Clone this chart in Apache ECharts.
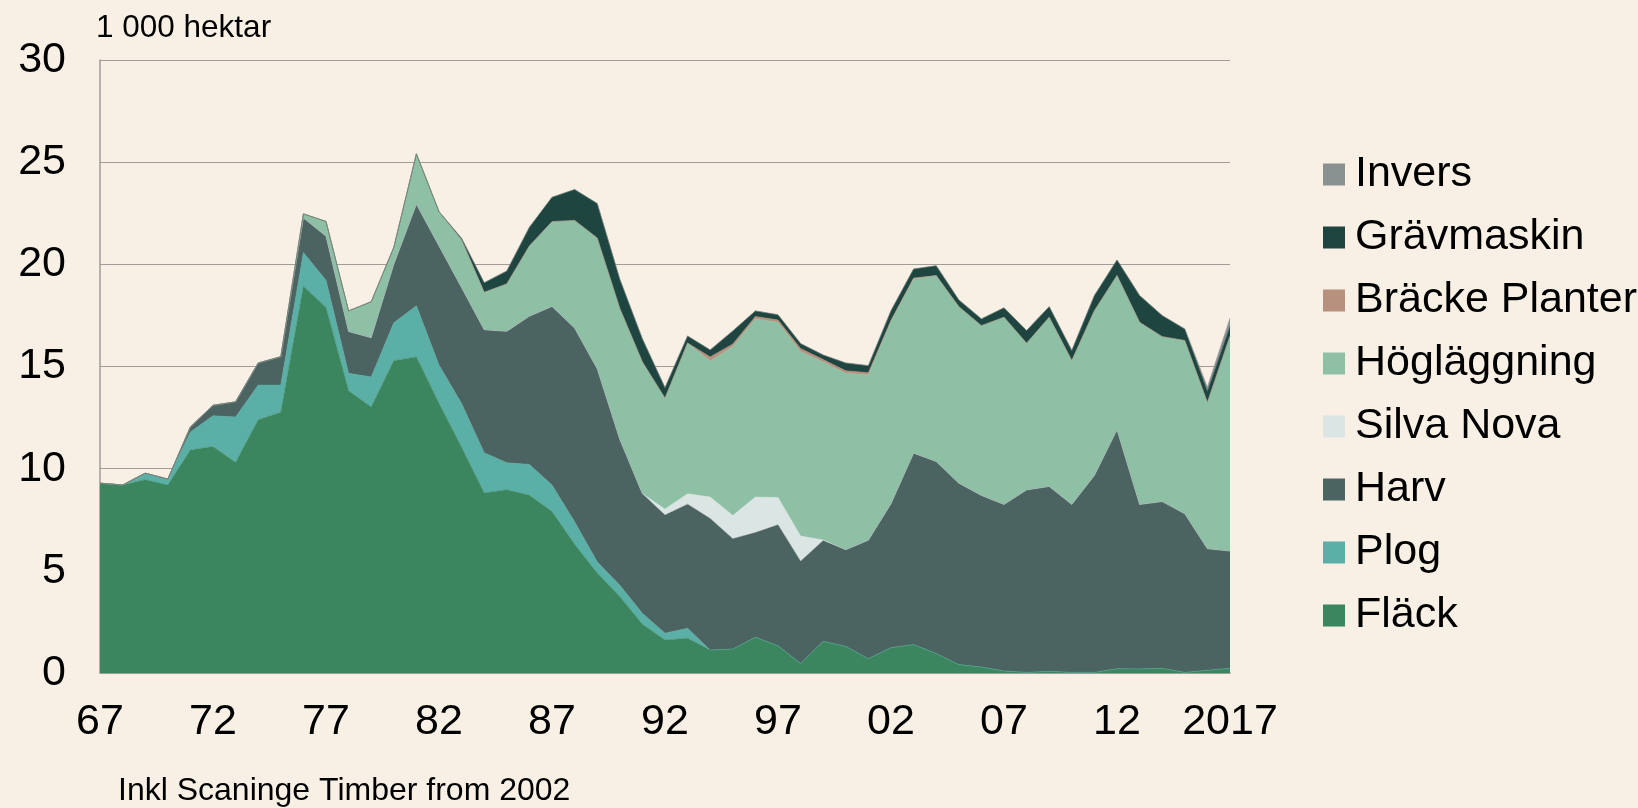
<!DOCTYPE html>
<html>
<head>
<meta charset="utf-8">
<script src="https://cdn.jsdelivr.net/npm/echarts@6/dist/echarts.min.js"></script>
<style>
  html, body { margin: 0; padding: 0; background: #f8f0e4; }
  #chart { width: 1638px; height: 808px; }
</style>
</head>
<body>
<div id="chart"></div>
<script>
// years 1967-2017, shown as two-digit labels (last one as 2017)
var years = ['67','68','69','70','71','72','73','74','75','76',
  '77','78','79','80','81','82','83','84','85','86',
  '87','88','89','90','91','92','93','94','95','96',
  '97','98','99','00','01','02','03','04','05','06',
  '07','08','09','10','11','12','13','14','15','16','2017'];

// 1 000 hektar per method (stacked bottom to top)
var flack = [9.29, 9.20, 9.46, 9.20, 10.91, 11.08, 10.30, 12.39, 12.76, 18.93,
  17.89, 13.81, 13.02, 15.28, 15.47, 13.2, 11.05, 8.81, 8.97, 8.70,
  7.90, 6.3, 4.89, 3.75, 2.38, 1.62, 1.70, 1.12, 1.17, 1.75,
  1.33, 0.46, 1.55, 1.30, 0.7, 1.24, 1.39, 0.95, 0.41, 0.29,
  0.10, 0.03, 0.08, 0.03, 0.03, 0.21, 0.20, 0.23, 0.03, 0.13, 0.23];
var plog = [0, 0, 0.32, 0.29, 0.89, 1.51, 2.23, 1.70, 1.33, 1.65,
  1.33, 0.86, 1.47, 1.86, 2.50, 1.87, 2.14, 1.97, 1.32, 1.51,
  1.3, 1.1, 0.55, 0.55, 0.54, 0.33, 0.49, 0, 0, 0,
  0, 0, 0, 0, 0, 0, 0, 0, 0, 0,
  0, 0, 0, 0, 0, 0, 0, 0, 0, 0, 0];
var harv = [0, 0, 0, 0, 0.24, 0.51, 0.74, 1.08, 1.39, 1.69,
  2.16, 2.04, 1.92, 2.86, 4.97, 5.83, 5.67, 6.02, 6.43, 7.25,
  8.74, 9.48, 9.45, 7.13, 5.85, 5.78, 6.07, 6.44, 5.40, 5.12,
  5.92, 5.01, 4.93, 4.73, 5.80, 7.04, 9.37, 9.40, 8.88, 8.40,
  8.15, 8.93, 9.05, 8.22, 9.64, 11.69, 8.05, 8.16, 7.76, 5.95, 5.74];
var silvaNova = [0, 0, 0, 0, 0, 0, 0, 0, 0, 0,
  0, 0, 0, 0, 0, 0, 0, 0, 0, 0,
  0, 0, 0, 0, 0, 0.29, 0.51, 1.05, 1.14, 1.74,
  1.34, 1.23, 0.03, 0, 0, 0, 0, 0, 0, 0,
  0, 0, 0, 0, 0, 0, 0, 0, 0, 0, 0];
var hoglaggning = [0, 0, 0, 0, 0, 0, 0, 0, 0, 0.20,
  0.72, 1.01, 1.76, 0.83, 2.47, 1.68, 2.33, 1.83, 2.32, 3.44,
  4.15, 5.27, 6.40, 6.41, 6.45, 5.43, 7.38, 6.66, 8.27, 8.72,
  8.57, 9.03, 8.71, 8.64, 8.10, 8.93, 8.52, 9.10, 8.64, 8.31,
  9.16, 7.18, 8.28, 7.04, 8.06, 7.55, 8.91, 8.07, 8.48, 7.16, 10.51];
var brackePlanter = [0, 0, 0, 0, 0, 0, 0, 0, 0, 0,
  0, 0, 0, 0, 0, 0, 0, 0, 0, 0,
  0, 0, 0, 0, 0, 0, 0, 0.2, 0.12, 0.12,
  0.12, 0.15, 0.12, 0.12, 0.1, 0.05, 0.05, 0, 0, 0,
  0, 0, 0, 0, 0, 0, 0, 0, 0, 0, 0];
var gravmaskin = [0, 0, 0, 0, 0, 0, 0, 0, 0, 0,
  0, 0, 0, 0, 0, 0, 0.08, 0.47, 0.63, 0.91,
  1.19, 1.51, 1.69, 1.43, 1.13, 0.51, 0.34, 0.34, 0.64, 0.27,
  0.25, 0.24, 0.22, 0.38, 0.34, 0.47, 0.44, 0.48, 0.33, 0.33,
  0.46, 0.62, 0.52, 0.49, 0.74, 0.76, 1.31, 1.03, 0.55, 0.54, 0.49];
var invers = [0, 0, 0, 0, 0, 0, 0, 0, 0, 0,
  0, 0, 0, 0, 0, 0, 0, 0, 0, 0,
  0, 0, 0, 0, 0, 0, 0, 0, 0, 0,
  0, 0, 0, 0, 0, 0, 0, 0, 0, 0,
  0, 0, 0, 0, 0, 0, 0, 0, 0.03, 0.22, 0.4];

var seriesNames = ['Fläck', 'Plog', 'Harv', 'Silva Nova', 'Högläggning', 'Bräcke Planter', 'Grävmaskin', 'Invers'];
var seriesData = [flack, plog, harv, silvaNova, hoglaggning, brackePlanter, gravmaskin, invers];
var seriesColors = ['#3b865f', '#5aafa6', '#4c6461', '#dbe5e3', '#8ec0a6', '#b8907e', '#1f4540', '#8a9191'];

var font = '"Liberation Sans", Arial, sans-serif';

var chart = echarts.init(document.getElementById('chart'));

var series = seriesNames.map(function (name, i) {
  return {
    name: name,
    type: 'line',
    stack: 'total',
    data: seriesData[i],
    showSymbol: false,
    symbol: 'none',
    lineStyle: { width: 0.5, color: seriesColors[i] },
    areaStyle: { color: seriesColors[i], opacity: 1 },
    itemStyle: { color: seriesColors[i] },
    emphasis: { disabled: true }
  };
});

var option = {
  backgroundColor: '#f8f0e4',
  animation: false,
  textStyle: { fontFamily: font },
  grid: { left: 100, top: 60, width: 1130, height: 613, containLabel: false },
  legend: {
    orient: 'vertical',
    left: 1318,
    top: 148,
    icon: 'rect',
    itemWidth: 22,
    itemHeight: 22,
    itemGap: 20,
    data: seriesNames.slice().reverse(),
    textStyle: { fontSize: 43, lineHeight: 42, color: '#000', fontFamily: font, padding: [0, 0, 0, 5] }
  },
  xAxis: {
    type: 'category',
    data: years,
    boundaryGap: false,
    axisLine: { show: true, lineStyle: { color: '#a09c98', width: 1.5 } },
    axisTick: { show: false },
    axisLabel: { interval: 4, fontSize: 43, color: '#000', margin: 28, fontFamily: font },
    splitLine: { show: false }
  },
  yAxis: {
    type: 'value',
    min: 0,
    max: 30,
    interval: 5,
    axisLine: { show: true, lineStyle: { color: '#a09c98', width: 1.5 } },
    axisTick: { show: false },
    axisLabel: { fontSize: 43, color: '#000', margin: 34, fontFamily: font },
    splitLine: { show: true, lineStyle: { color: '#a09c98', width: 1.2 } }
  },
  graphic: [
    {
      type: 'text',
      left: 96,
      top: 12,
      style: { text: '1 000 hektar', font: '31.5px ' + font, fill: '#000' }
    },
    {
      type: 'text',
      left: 118,
      top: 775,
      style: { text: 'Inkl Scaninge Timber from 2002', font: '32px ' + font, fill: '#000' }
    }
  ],
  series: series
};

chart.setOption(option);
</script>
</body>
</html>
